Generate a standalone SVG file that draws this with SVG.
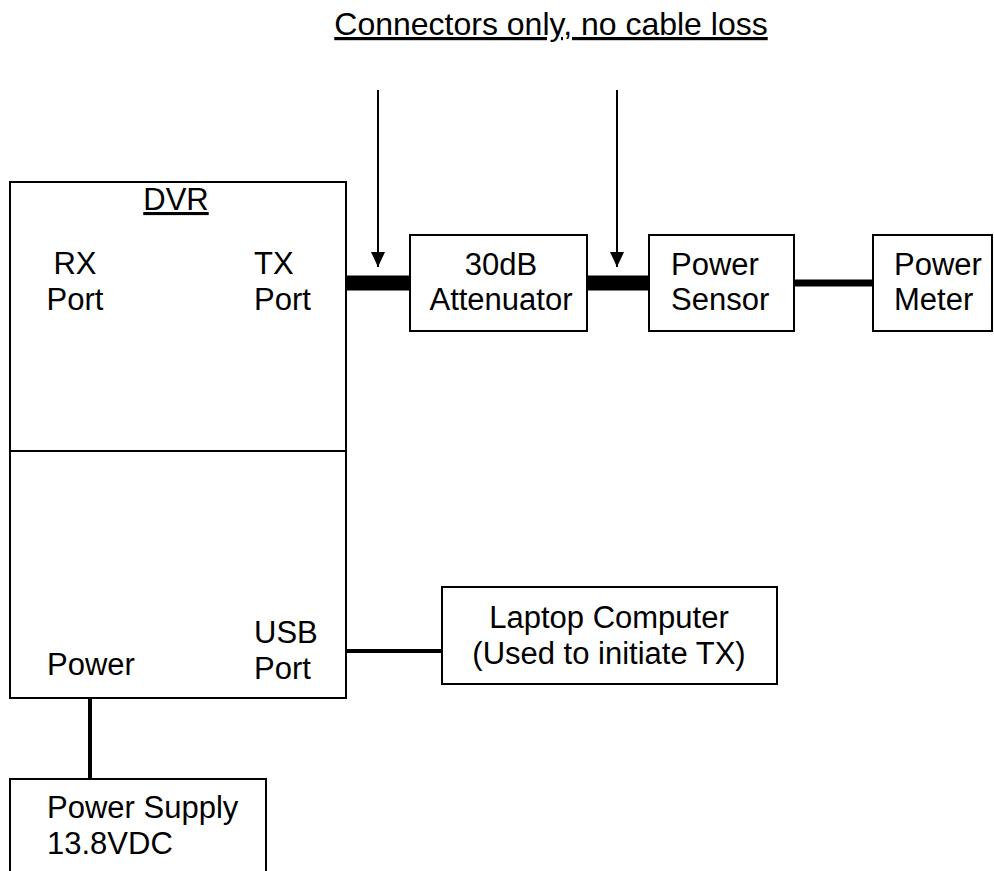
<svg xmlns="http://www.w3.org/2000/svg" width="994" height="871" viewBox="0 0 994 871">
<style>
.box{fill:#fff;stroke:#000;stroke-width:2}
.t{font-family:"Liberation Sans",Arial,sans-serif;font-size:31px;fill:#000}
.c{stroke:#000;fill:none}
</style>
<defs>
<marker id="ah" markerWidth="15" markerHeight="14" refX="15" refY="7" orient="auto" markerUnits="userSpaceOnUse" viewBox="0 0 15 14">
<path d="M0,0 L15,7 L0,14 Z" fill="#000"/>
</marker>
</defs>
<rect width="994" height="871" fill="#fff"/>
<g id="title">
<text class="t" x="551" y="35" text-anchor="middle" text-decoration="underline" style="font-size:32px">Connectors only, no cable loss</text>
</g>
<g id="connectors">
<line class="c" x1="346" y1="283" x2="410" y2="283" stroke-width="15"/>
<line class="c" x1="587" y1="283" x2="649" y2="283" stroke-width="15"/>
<line class="c" x1="794" y1="283" x2="873" y2="283" stroke-width="7"/>
<line class="c" x1="346" y1="651" x2="442" y2="651" stroke-width="4"/>
<line class="c" x1="90" y1="698" x2="90" y2="779" stroke-width="4"/>
<line class="c" x1="378" y1="90" x2="378" y2="267" stroke-width="2" marker-end="url(#ah)"/>
<line class="c" x1="617" y1="90" x2="617" y2="267" stroke-width="2" marker-end="url(#ah)"/>
</g>
<g id="dvr">
<rect class="box" x="10" y="182" width="336" height="516"/>
<line class="c" x1="10" y1="451" x2="346" y2="451" stroke-width="2"/>
<text class="t" x="176" y="210" text-anchor="middle" text-decoration="underline">DVR</text>
<text class="t" x="75" y="274" text-anchor="middle">RX</text>
<text class="t" x="75" y="310" text-anchor="middle">Port</text>
<text class="t" x="254" y="274">TX</text>
<text class="t" x="254" y="310">Port</text>
<text class="t" x="47" y="675">Power</text>
<text class="t" x="254" y="643">USB</text>
<text class="t" x="254" y="679">Port</text>
</g>
<g id="attenuator">
<rect class="box" x="410" y="235" width="177" height="96"/>
<text class="t" x="501" y="275" text-anchor="middle">30dB</text>
<text class="t" x="501" y="310" text-anchor="middle">Attenuator</text>
</g>
<g id="power-sensor">
<rect class="box" x="649" y="235" width="145" height="96"/>
<text class="t" x="671" y="275">Power</text>
<text class="t" x="671" y="310">Sensor</text>
</g>
<g id="power-meter">
<rect class="box" x="873" y="235" width="119" height="96"/>
<text class="t" x="894" y="275">Power</text>
<text class="t" x="894" y="310">Meter</text>
</g>
<g id="laptop">
<rect class="box" x="442" y="587" width="335" height="97"/>
<text class="t" x="609" y="628" text-anchor="middle">Laptop Computer</text>
<text class="t" x="609" y="664" text-anchor="middle">(Used to initiate TX)</text>
</g>
<g id="power-supply">
<rect class="box" x="10" y="779" width="256" height="120"/>
<text class="t" x="47" y="818">Power Supply</text>
<text class="t" x="47" y="854">13.8VDC</text>
</g>
</svg>
